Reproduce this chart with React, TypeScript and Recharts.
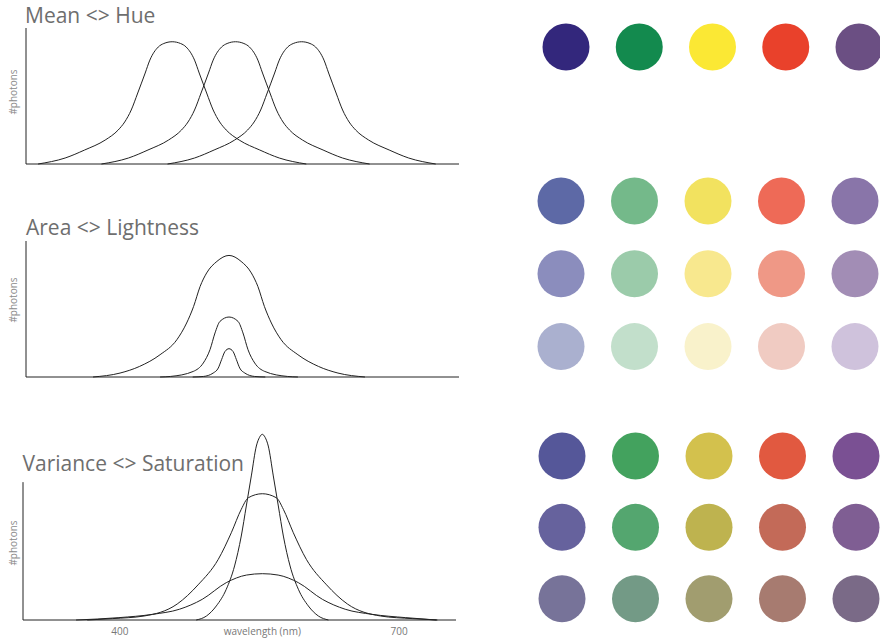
import { LineChart, Line, XAxis, YAxis, ScatterChart, Scatter, ReferenceLine } from "recharts";

// wavelength window shared by the three spectrum panels (nm)
const nmDomain = [296, 761];

// Mean <> Hue : three equal-shape spectra shifted along wavelength
const hueShortNm = [309, 338, 359, 381, 395, 402, 409, 416, 424, 429, 438, 444, 453, 462, 468, 477, 482, 490, 497, 504, 511, 525, 547, 568, 597];
const hueMidNm = [377, 406, 427, 449, 463, 470, 477, 484, 492, 497, 506, 512, 521, 530, 536, 545, 550, 558, 565, 572, 579, 593, 615, 636, 665];
const hueLongNm = [448, 477, 498, 520, 534, 541, 548, 555, 563, 568, 577, 583, 592, 601, 607, 616, 621, 629, 636, 643, 650, 664, 686, 707, 736];
const hueCount = [0, 4.4, 10.3, 17.6, 25, 30.9, 39.7, 52.2, 66.9, 76.4, 86, 88.6, 89.9, 88.6, 86, 76.4, 66.9, 52.2, 39.7, 30.9, 25, 17.6, 10.3, 4.4, 0];

// Area <> Lightness : same centre, shrinking area
const lightBigNm = [368, 397, 418, 440, 458, 468.5, 476, 483, 490, 501, 514, 527, 538, 545, 552, 559.5, 570, 588, 610, 631, 660];
const lightBigCount = [0, 2.9, 7.8, 16.4, 27.4, 39.7, 51.9, 66.6, 76.5, 85, 89.4, 85, 76.5, 66.6, 51.9, 39.7, 27.4, 16.4, 7.8, 2.9, 0];
const lightMidNm = [440, 451, 475.6, 486.4, 493.6, 499, 504.3, 514, 523.7, 529, 534.4, 541.6, 552.4, 577, 588];
const lightMidCount = [0, 0.4, 4.1, 10.3, 20.1, 32.4, 40.9, 44.1, 40.9, 32.4, 20.1, 10.3, 4.1, 0.4, 0];
const lightSmallNm = [475, 486.5, 497, 502.5, 506, 509.7, 514, 518.3, 522, 525.5, 531, 541.5, 553];
const lightSmallCount = [0, 0.4, 2.9, 6.6, 12.7, 18.8, 20.8, 18.8, 12.7, 6.6, 2.9, 0.4, 0];

// Variance <> Saturation : same centre, growing spread
const satNarrowNm = [482, 493, 503.6, 514.3, 523.2, 530.4, 535.8, 541.2, 546.6, 550, 553, 556, 559.4, 564.8, 570.2, 575.6, 582.8, 591.7, 602.4, 613.2, 624];
const satNarrowCount = [0, 2.9, 10.2, 22.3, 39.2, 60.9, 82.7, 104.5, 126.2, 132.5, 134.7, 132.5, 126.2, 104.5, 82.7, 60.9, 39.2, 22.3, 10.2, 2.9, 0];
const satMidNm = [365, 392, 426, 461.6, 484, 505.7, 519.7, 530.4, 538, 553, 568, 575.6, 586.3, 600.3, 622, 644.4, 680, 714, 741];
const satMidCount = [0, 1, 2.9, 11.6, 25.5, 44, 63.3, 80.3, 88.7, 91.6, 88.7, 80.3, 63.3, 44, 25.5, 11.6, 2.9, 1, 0];
const satWideNm = [353, 399, 435, 464, 488.5, 514.3, 536, 553, 570, 591.7, 617.5, 642, 671, 707, 740];
const satWideCount = [0, 1.7, 4.1, 7.8, 15, 27.1, 32.6, 33.6, 32.6, 27.1, 15, 7.8, 4.1, 1.7, 0];

const satTicks = [400, 553, 700];
const satTickLabels = ["400", "wavelength (nm)", "700"];

// swatches, one array per row
const hueRow = ["#33277c", "#138a4e", "#fbe834", "#e9412b", "#6b4f83"];
const lightRow1 = ["#5d69a6", "#74b98a", "#f2e25f", "#ee6a57", "#8975a9"];
const lightRow2 = ["#8b8dbd", "#9bcbaa", "#f8e88e", "#ef9886", "#a28db5"];
const lightRow3 = ["#aab0cf", "#c2dfcb", "#f9f2cb", "#f0cbc2", "#cfc2dc"];
const satRow1 = ["#555799", "#43a25e", "#d3c14d", "#e15940", "#7a5093"];
const satRow2 = ["#66629d", "#54a66f", "#beb34f", "#c36a58", "#7f5e93"];
const satRow3 = ["#777399", "#739a86", "#a19d6f", "#a77b70", "#7a6a87"];

const INK = "#222";
const GREY = "#6e6e6e";

const toPoints = (nm: number[], count: number[]) => nm.map((x, i) => ({ x, y: count[i] }));

function Title({ text, left, top }: { text: string; left: number; top: number }) {
  return (
    <div style={{ position: "absolute", left, top, fontSize: 21, lineHeight: "21px", color: GREY, whiteSpace: "nowrap" }}>
      {text}
    </div>
  );
}

function Photons({ cy }: { cy: number }) {
  return (
    <div
      style={{
        position: "absolute",
        left: 13 - 30,
        top: cy - 6,
        width: 60,
        height: 12,
        lineHeight: "12px",
        fontSize: 10,
        color: "#8a8a8a",
        textAlign: "center",
        transform: "rotate(-90deg)",
      }}
    >
      #photons
    </div>
  );
}

function Curve({ nm, count }: { nm: number[]; count: number[] }) {
  return (
    <Line
      data={toPoints(nm, count)}
      dataKey="y"
      type="monotone"
      stroke={INK}
      strokeWidth={1}
      dot={false}
      activeDot={false}
      isAnimationActive={false}
    />
  );
}

function Swatch(props: any) {
  const { cx, cy, payload } = props;
  return <circle cx={cx} cy={cy} r={23.5} fill={payload.color} />;
}

function DotGroup({ left, top, colSpan, rowSpan, rows }: { left: number; top: number; colSpan: number; rowSpan: number; rows: string[][] }) {
  return (
    <div style={{ position: "absolute", left, top }}>
      <ScatterChart width={colSpan + 60} height={rowSpan + 60} margin={{ top: 30, right: 30, bottom: 30, left: 30 }}>
        <XAxis type="number" dataKey="col" domain={[0, 4]} hide />
        <YAxis type="number" dataKey="row" domain={[0, 2]} reversed hide />
        {rows.map((colors, r) => (
          <Scatter
            key={r}
            data={colors.map((color, c) => ({ col: c, row: r, color }))}
            shape={Swatch}
            isAnimationActive={false}
          />
        ))}
      </ScatterChart>
    </div>
  );
}

export default function App() {
  return (
    <div
      style={{
        position: "absolute",
        left: 0,
        top: 0,
        width: 880,
        height: 639,
        overflow: "hidden",
        background: "#fff",
        fontFamily: "'Open Sans', sans-serif",
      }}
    >
      {/* Mean <> Hue */}
      <div style={{ position: "absolute", left: 0, top: 0 }}>
        <LineChart width={470} height={175} margin={{ top: 28, right: 11, bottom: 10, left: 25 }}>
          <XAxis type="number" dataKey="x" domain={nmDomain} tick={false} tickLine={false} height={1} stroke={INK} />
          <YAxis type="number" domain={[0, 100]} tick={false} tickLine={false} width={1} stroke={INK} />
          <Curve nm={hueShortNm} count={hueCount} />
          <Curve nm={hueMidNm} count={hueCount} />
          <Curve nm={hueLongNm} count={hueCount} />
        </LineChart>
      </div>
      <Title text="Mean <> Hue" left={25} top={4.5} />
      <Photons cy={92} />

      {/* Area <> Lightness */}
      <div style={{ position: "absolute", left: 0, top: 213 }}>
        <LineChart width={470} height={175} margin={{ top: 28, right: 11, bottom: 10, left: 25 }}>
          <XAxis type="number" dataKey="x" domain={nmDomain} tick={false} tickLine={false} height={1} stroke={INK} />
          <YAxis type="number" domain={[0, 100]} tick={false} tickLine={false} width={1} stroke={INK} />
          <Curve nm={lightBigNm} count={lightBigCount} />
          <Curve nm={lightMidNm} count={lightMidCount} />
          <Curve nm={lightSmallNm} count={lightSmallCount} />
        </LineChart>
      </div>
      <Title text="Area <> Lightness" left={26} top={216.5} />
      <Photons cy={300} />

      {/* Variance <> Saturation */}
      <div style={{ position: "absolute", left: 0, top: 400 }}>
        <LineChart width={470} height={240} margin={{ top: 27, right: 14, bottom: 0, left: 23 }}>
          <XAxis
            type="number"
            dataKey="x"
            domain={nmDomain}
            ticks={satTicks}
            interval={0}
            tickFormatter={(v: number) => satTickLabels[satTicks.indexOf(v)]}
            tick={{ fill: "#777", fontSize: 10 }}
            tickLine={false}
            height={20}
            stroke={INK}
          />
          <YAxis type="number" domain={[0, 140]} tick={false} tickLine={false} axisLine={false} width={0} />
          <ReferenceLine
            segment={[
              { x: nmDomain[0], y: 0 },
              { x: nmDomain[0], y: 100 },
            ]}
            stroke={INK}
          />
          <Curve nm={satNarrowNm} count={satNarrowCount} />
          <Curve nm={satMidNm} count={satMidCount} />
          <Curve nm={satWideNm} count={satWideCount} />
        </LineChart>
      </div>
      <Title text="Variance <> Saturation" left={22.5} top={453} />
      <Photons cy={543} />

      <DotGroup left={536} top={16.7} colSpan={293} rowSpan={145} rows={[hueRow]} />
      <DotGroup left={531} top={170.7} colSpan={294} rowSpan={145.6} rows={[lightRow1, lightRow2, lightRow3]} />
      <DotGroup left={532} top={426} colSpan={294} rowSpan={142.7} rows={[satRow1, satRow2, satRow3]} />
    </div>
  );
}
